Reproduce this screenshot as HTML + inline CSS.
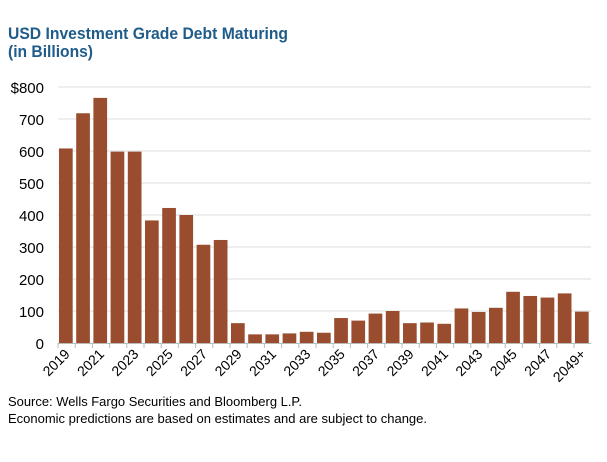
<!DOCTYPE html>
<html><head><meta charset="utf-8"><style>
body{margin:0;background:#fff;width:607px;height:457px;overflow:hidden;font-family:"Liberation Sans",sans-serif}
</style></head><body>
<svg width="607" height="457">
<text x="8" y="39" font-size="17" font-weight="bold" fill="#1f5c8a" textLength="280" lengthAdjust="spacingAndGlyphs">USD Investment Grade Debt Maturing</text>
<text x="8" y="57" font-size="17" font-weight="bold" fill="#1f5c8a" textLength="85" lengthAdjust="spacingAndGlyphs">(in Billions)</text>
<g id="grid"></g><g id="bars"></g><g id="xaxis"></g><g id="yaxis"></g>
<text x="8" y="406" font-size="13" fill="#000" textLength="294" lengthAdjust="spacingAndGlyphs">Source: Wells Fargo Securities and Bloomberg L.P.</text>
<text x="8" y="423" font-size="13" fill="#000" textLength="419" lengthAdjust="spacingAndGlyphs">Economic predictions are based on estimates and are subject to change.</text>
</svg>
<script>
const categories=["2019","2020","2021","2022","2023","2024","2025","2026","2027","2028","2029","2030","2031","2032","2033","2034","2035","2036","2037","2038","2039","2040","2041","2042","2043","2044","2045","2046","2047","2048","2049+"];
const values=[608,718,766,598,598,383,422,400,307,322,62,27,27,30,35,32,78,70,92,100,62,64,60,108,97,110,160,147,142,155,98];
const yTicks=[0,100,200,300,400,500,600,700,800];
const yTickLabels=["0","100","200","300","400","500","600","700","$800"];
const NS="http://www.w3.org/2000/svg";
const x0=58,cw=17.2,y0=343,ppu=0.32;
const X=i=>x0+i*cw, Y=v=>y0-v*ppu;
function mk(t,a,p){const e=document.createElementNS(NS,t);for(const k in a)e.setAttribute(k,a[k]);document.getElementById(p).appendChild(e);return e;}
yTicks.forEach((v,i)=>{
 if(v>0){const g=mk('line',{x1:x0,x2:x0+categories.length*cw,y1:Y(v),y2:Y(v),stroke:'#dcdcdc','stroke-width':1},'grid');
 
 }
 const t=mk('text',{x:44,y:Y(v)+6,'font-size':15,'text-anchor':'end',fill:'#000'},'yaxis');t.textContent=yTickLabels[i];
 
 
});
values.forEach((v,i)=>{
 const r=mk('rect',{x:X(i)+1,y:Y(v),width:cw-3.5,height:v*ppu,fill:'#9a4d2e'},'bars');
 
 
});
const ax=mk('line',{x1:x0,x2:x0+categories.length*cw,y1:y0+0.5,y2:y0+0.5,stroke:'#bbb'},'xaxis');


categories.forEach((c,i)=>{
 const tk=mk('line',{x1:X(i),x2:X(i),y1:y0,y2:y0+5,stroke:'#bbb'},'xaxis');
 
 
 if(i%2===0||i===categories.length-1){
  const cx=X(i)+cw/2+4;
  const t=mk('text',{x:cx,y:y0+12,'font-size':14,'text-anchor':'end',fill:'#000',transform:`rotate(-45 ${cx} ${y0+12})`},'xaxis');
  t.textContent=c;
  
  
 }
});
</script>
</body></html>
